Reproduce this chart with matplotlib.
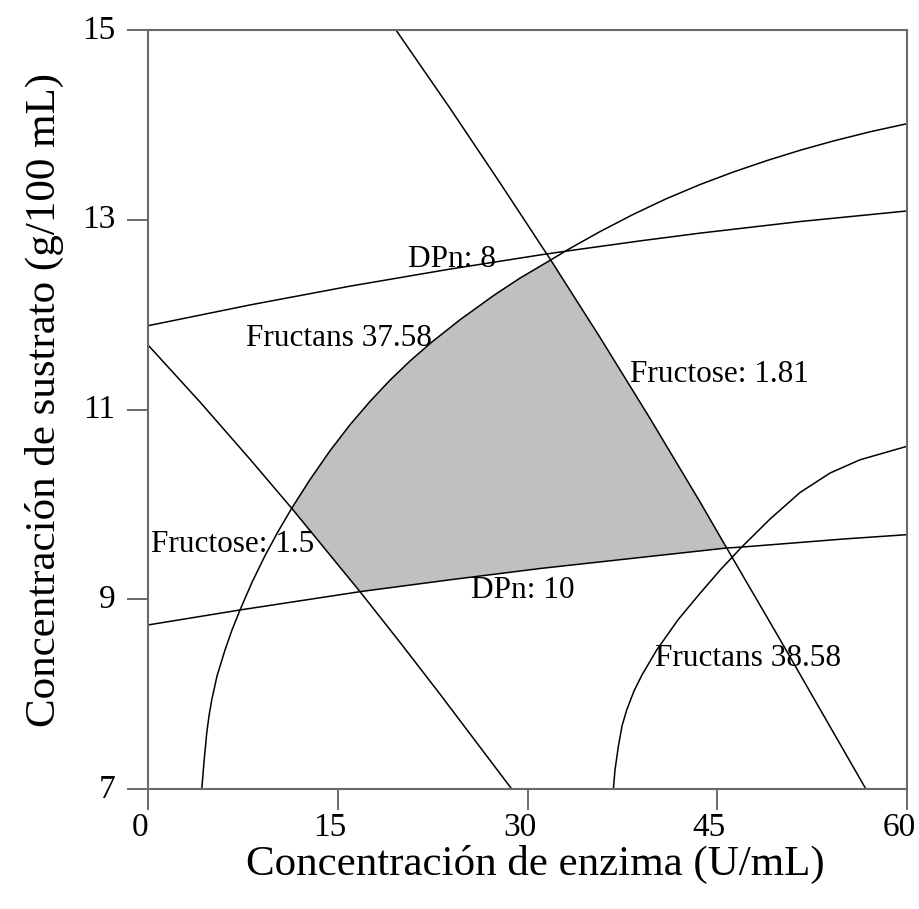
import matplotlib
matplotlib.use("Agg")
import matplotlib.pyplot as plt
import matplotlib.transforms as mtransforms
import numpy as np

plt.rcParams['font.family'] = ['Liberation Serif', 'DejaVu Serif']

# Overlaid contour lines: enzyme concentration (U/mL) vs substrate (g/100 mL)
dpn8_x = [0.0, 8.063, 15.968, 23.874, 30.988, 33.360, 38.893, 43.636, 51.542, 60.024]
dpn8_y = [11.883, 12.102, 12.300, 12.480, 12.629, 12.675, 12.777, 12.859, 12.981, 13.093]

dpn10_x = [0.0, 7.273, 16.759, 23.874, 30.988, 38.893, 45.747, 46.933, 55.099, 60.024]
dpn10_y = [8.729, 8.887, 9.080, 9.205, 9.324, 9.440, 9.540, 9.550, 9.636, 9.681]

fructose181_x = [19.60, 23.874, 27.826, 31.834, 35.731, 39.684, 43.636, 45.747, 49.960, 56.814]
fructose181_y = [15.0, 14.175, 13.389, 12.576, 11.760, 10.906, 10.026, 9.540, 8.576, 6.985]

fructose15_x = [0.0, 4.111, 8.063, 11.360, 14.364, 16.759, 19.921, 23.083, 26.245, 28.751]
fructose15_y = [11.680, 11.079, 10.476, 9.959, 9.470, 9.080, 8.546, 8.000, 7.442, 7.0]

fructans3758_x = [4.245, 4.427, 4.640, 4.822, 5.036, 5.455, 6.087, 6.640, 7.273,
                  8.221, 9.249, 10.277, 11.360, 12.806, 14.387, 15.968, 17.549,
                  19.130, 20.711, 22.427, 24.664, 27.296, 29.407, 31.834, 33.360,
                  35.731, 38.364, 40.949, 43.636, 46.245, 48.909, 51.542, 54.174,
                  57.075, 60.024]
fructans3758_y = [6.989, 7.285, 7.587, 7.769, 7.938, 8.191, 8.465, 8.676, 8.887,
                  9.178, 9.459, 9.712, 9.959, 10.261, 10.565, 10.839, 11.085,
                  11.309, 11.511, 11.710, 11.946, 12.199, 12.385, 12.576, 12.698,
                  12.875, 13.057, 13.220, 13.371, 13.502, 13.623, 13.732, 13.830,
                  13.927, 14.013]

fructans3858_x = [36.783, 36.917, 37.178, 37.470, 37.842, 38.419, 39.051, 40.213,
                  41.897, 43.636, 45.217, 46.933, 49.170, 51.542, 53.913, 56.285,
                  60.024]
fructans3858_y = [6.989, 7.200, 7.446, 7.664, 7.833, 8.033, 8.202, 8.465,
                  8.783, 9.062, 9.306, 9.550, 9.845, 10.125, 10.330, 10.470,
                  10.613]

# Corners of the feasible (shaded) region, by enzyme concentration
corner_left = 11.360    # Fructans 37.58 meets Fructose 1.5
corner_top = 31.834     # Fructans 37.58 meets Fructose 1.81
corner_right = 45.747   # Fructose 1.81 meets DPn 10
corner_bottom = 16.759  # DPn 10 meets Fructose 1.5

labels = ["DPn: 8", "DPn: 10", "Fructose: 1.81", "Fructose: 1.5",
          "Fructans 37.58", "Fructans 38.58"]
label_x = [24.0, 29.6, 45.2, 6.7, 15.1, 47.4]
label_y = [12.58, 9.09, 11.37, 9.58, 11.75, 8.38]

x_ticks = [0, 15, 30, 45, 60]
y_ticks = [7, 9, 11, 13, 15]


def segment(xs, ys, x0, x1):
    xs = np.asarray(xs)
    ys = np.asarray(ys)
    lo, hi = min(x0, x1), max(x0, x1)
    m = (xs >= lo - 1e-9) & (xs <= hi + 1e-9)
    px, py = xs[m], ys[m]
    if x0 > x1:
        px, py = px[::-1], py[::-1]
    return list(px), list(py)


fig = plt.figure(figsize=(9.19, 9.09), dpi=100)
ax = fig.add_axes([148 / 919, 1 - 789 / 909, 759 / 919, 759 / 909])

# shaded feasible region
sx, sy = [], []
for xs, ys, a, b in [(fructans3758_x, fructans3758_y, corner_left, corner_top),
                     (fructose181_x, fructose181_y, corner_top, corner_right),
                     (dpn10_x, dpn10_y, corner_right, corner_bottom),
                     (fructose15_x, fructose15_y, corner_bottom, corner_left)]:
    px, py = segment(xs, ys, a, b)
    sx += px
    sy += py
ax.fill(sx, sy, color='#c0c0c0', lw=0, zorder=1)

for xs, ys in [(dpn8_x, dpn8_y), (dpn10_x, dpn10_y),
               (fructose181_x, fructose181_y), (fructose15_x, fructose15_y),
               (fructans3758_x, fructans3758_y), (fructans3858_x, fructans3858_y)]:
    ax.plot(xs, ys, color='black', lw=1.1, zorder=2, solid_joinstyle='round')

for t, x, y in zip(labels, label_x, label_y):
    ax.text(x, y, t, fontsize=22.5, ha='center', va='center', zorder=3)

ax.set_xlim(0, 60)
ax.set_ylim(7, 15)
ax.set_xticks(x_ticks)
ax.set_yticks(y_ticks)
ax.set_xticklabels([str(v) for v in x_ticks])
ax.set_yticklabels([str(v) for v in y_ticks])

spine_color = '#6a6a6a'
for s in ax.spines.values():
    s.set_color(spine_color)
    s.set_linewidth(1.5)
ax.tick_params(which='major', direction='out', length=15, width=1.4,
               color=spine_color, labelsize=24, labelcolor='black',
               bottom=True, left=True, top=False, right=False)
ax.tick_params(axis='x', pad=2)
ax.tick_params(axis='y', pad=8.5)

shift_x = mtransforms.ScaledTranslation(-8 / 100, 0, fig.dpi_scale_trans)
for lab in ax.get_xticklabels():
    lab.set_transform(lab.get_transform() + shift_x)
shift_y = mtransforms.ScaledTranslation(0, 3 / 100, fig.dpi_scale_trans)
for lab in ax.get_yticklabels():
    lab.set_transform(lab.get_transform() + shift_y)

ax.set_xlabel('Concentración de enzima (U/mL)', fontsize=31, va='center')
ax.xaxis.set_label_coords(0.51, -0.1)
ax.set_ylabel('Concentración de sustrato (g/100 mL)', fontsize=31, va='center')
ax.yaxis.set_label_coords(-0.137, 0.5125)

fig.savefig('out.png', dpi=100)
